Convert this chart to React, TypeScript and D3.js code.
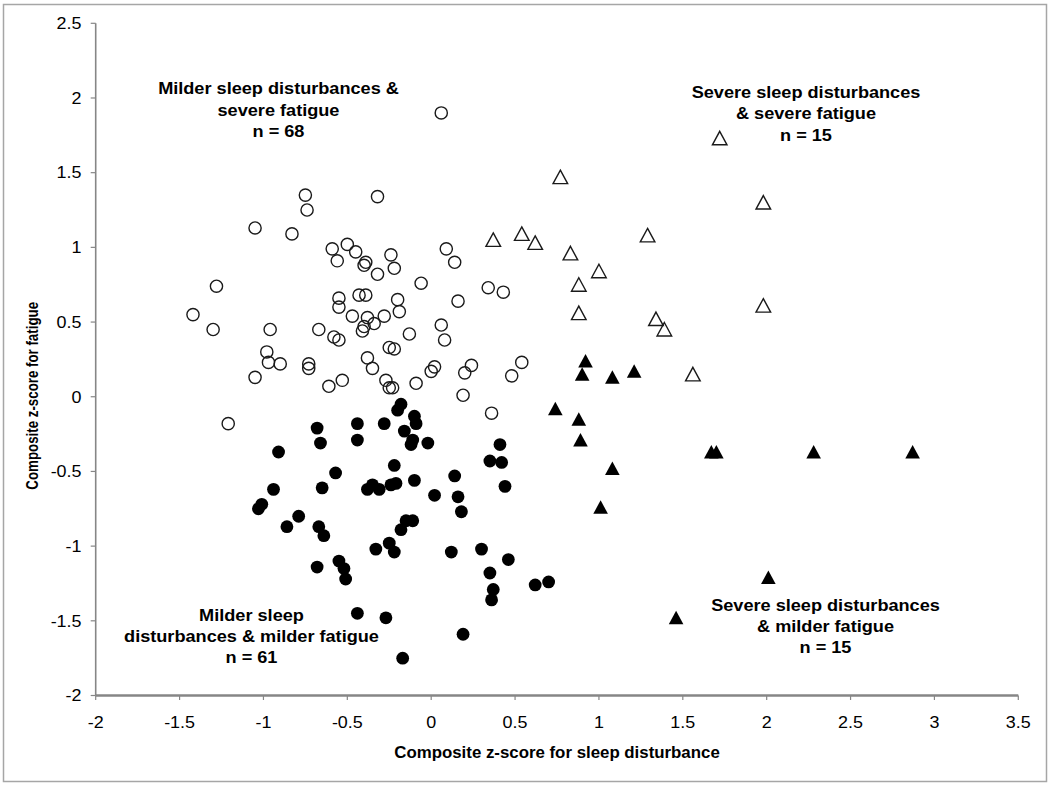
import React from "react";
import * as d3 from "d3";

const xTicks = [-2, -1.5, -1, -0.5, 0, 0.5, 1, 1.5, 2, 2.5, 3, 3.5];
const yTicks = [-2, -1.5, -1, -0.5, 0, 0.5, 1, 1.5, 2, 2.5];

// Milder sleep disturbances & severe fatigue (open circles)
const mildSevere: [number, number][] = [
  [-0.75, 1.35], [-0.74, 1.25], [-0.32, 1.34], [-1.05, 1.13], [-0.83, 1.09], [-0.59, 0.99],
  [-0.5, 1.02], [-0.45, 0.97], [-0.56, 0.91], [-0.39, 0.9], [-0.4, 0.88], [-0.32, 0.82],
  [-0.24, 0.95], [-0.22, 0.86], [0.09, 0.99], [-0.06, 0.76], [-1.28, 0.74], [-1.42, 0.55],
  [-1.3, 0.45], [-0.96, 0.45], [-0.55, 0.66], [-0.55, 0.6], [-0.43, 0.68], [-0.39, 0.68],
  [-0.2, 0.65], [-0.19, 0.57], [-0.47, 0.54], [-0.38, 0.53], [-0.28, 0.54], [-0.34, 0.49],
  [-0.4, 0.47], [-0.41, 0.44], [-0.13, 0.42], [0.06, 0.48], [0.08, 0.38], [-0.67, 0.45],
  [-0.58, 0.4], [-0.55, 0.38], [-0.25, 0.33], [-0.22, 0.32], [-0.98, 0.3], [-0.97, 0.23],
  [-0.9, 0.22], [-0.73, 0.22], [-0.73, 0.19], [-1.05, 0.13], [-0.61, 0.07], [-0.53, 0.11],
  [-0.38, 0.26], [-0.35, 0.19], [-0.27, 0.11], [-0.25, 0.06], [-0.23, 0.06], [-0.09, 0.09],
  [0.0, 0.17], [0.02, 0.2], [-1.21, -0.18], [0.06, 1.9], [0.14, 0.9], [0.16, 0.64],
  [0.34, 0.73], [0.43, 0.7], [0.2, 0.16], [0.24, 0.21], [0.48, 0.14], [0.54, 0.23],
  [0.19, 0.01], [0.36, -0.11],
];

// Milder sleep disturbances & milder fatigue (filled circles)
const mildMild: [number, number][] = [
  [-0.18, -0.05], [-0.2, -0.09], [-0.68, -0.21], [-0.44, -0.18], [-0.28, -0.18], [-0.1, -0.13],
  [-0.09, -0.18], [-0.16, -0.23], [-0.66, -0.31], [-0.44, -0.29], [-0.11, -0.29], [-0.12, -0.32],
  [-0.02, -0.31], [-0.91, -0.37], [-0.22, -0.46], [-0.57, -0.51], [-0.94, -0.62], [-0.65, -0.61],
  [-0.38, -0.62], [-0.35, -0.59], [-0.31, -0.62], [-0.24, -0.59], [-0.21, -0.58], [-0.1, -0.56],
  [0.02, -0.66], [-1.01, -0.72], [-1.03, -0.75], [-0.79, -0.8], [-0.86, -0.87], [-0.67, -0.87],
  [-0.64, -0.93], [-0.18, -0.89], [-0.15, -0.83], [-0.11, -0.83], [-0.33, -1.02], [-0.25, -0.98],
  [-0.22, -1.04], [-0.68, -1.14], [-0.55, -1.1], [-0.52, -1.15], [-0.51, -1.22], [-0.44, -1.45],
  [-0.27, -1.48], [-0.17, -1.75], [0.14, -0.53], [0.16, -0.67], [0.18, -0.77], [0.12, -1.04],
  [0.41, -0.32], [0.35, -0.43], [0.42, -0.44], [0.44, -0.6], [0.3, -1.02], [0.46, -1.09],
  [0.35, -1.18], [0.37, -1.29], [0.36, -1.36], [0.62, -1.26], [0.7, -1.24], [0.19, -1.59],
];

// Severe sleep disturbances & severe fatigue (open triangles)
const severeSevere: [number, number][] = [
  [1.72, 1.73], [0.77, 1.47], [1.98, 1.3], [0.37, 1.05], [0.54, 1.09], [0.62, 1.03],
  [1.29, 1.08], [0.83, 0.96], [1.0, 0.84], [0.88, 0.75], [0.88, 0.56], [1.98, 0.61],
  [1.34, 0.52], [1.39, 0.45], [1.56, 0.15],
];

// Severe sleep disturbances & milder fatigue (filled triangles)
const severeMild: [number, number][] = [
  [0.92, 0.24], [0.9, 0.15], [1.08, 0.13], [1.21, 0.17], [0.74, -0.08], [0.88, -0.15],
  [0.89, -0.29], [1.67, -0.37], [1.7, -0.37], [2.28, -0.37], [2.87, -0.37], [1.08, -0.48],
  [1.01, -0.74], [2.01, -1.21], [1.46, -1.48],
];

const FONT = '"Liberation Sans", Arial, sans-serif';

const tri = "M0,-7 L7.3,6.5 L-7.3,6.5 Z";

function Stretched({ x, y, children, size, bold, anchor = "middle", sx = 1.08 }: any) {
  return (
    <text
      transform={`translate(${x},${y}) scale(${sx},1)`}
      textAnchor={anchor}
      fontFamily={FONT}
      fontSize={size}
      fontWeight={bold ? "bold" : "normal"}
      fill="#000"
    >
      {children}
    </text>
  );
}

export default function App() {
  const x = d3.scaleLinear().domain([-2, 3.5]).range([95.7, 1018.3]);
  const y = d3.scaleLinear().domain([-2, 2.5]).range([695.5, 23.3]);
  const axisColor = "#868686";

  return (
    <svg
      width={1050}
      height={785}
      style={{ position: "absolute", left: 0, top: 0, background: "#fff" }}
    >
      <rect x={0} y={0} width={1050} height={785} fill="#fff" />
      <rect x={3.5} y={4.5} width={1043} height={777} fill="none" stroke="#a6a6a6" strokeWidth={1.5} />

      {/* y axis */}
      <line x1={x(-2)} x2={x(-2)} y1={y(2.5)} y2={y(-2)} stroke={axisColor} strokeWidth={1.6} />
      {yTicks.map((t) => (
        <g key={"yt" + t}>
          <line x1={x(-2) - 5} x2={x(-2)} y1={y(t)} y2={y(t)} stroke={axisColor} strokeWidth={1.2} />
          <Stretched x={81.5} y={y(t) + 5.8} size={16} sx={1.12} anchor="end">
            {String(t)}
          </Stretched>
        </g>
      ))}

      {/* x axis */}
      {xTicks.map((t) => (
        <g key={"xt" + t}>
          <line x1={x(t)} x2={x(t)} y1={y(-2)} y2={y(-2) + 4.5} stroke={axisColor} strokeWidth={1.2} />
          <Stretched x={x(t)} y={727.5} size={16} sx={1.12}>
            {String(t)}
          </Stretched>
        </g>
      ))}
      <line x1={x(-2)} x2={x(3.5)} y1={y(-2)} y2={y(-2)} stroke={axisColor} strokeWidth={2.6} />

      {/* axis titles */}
      <Stretched x={557} y={758.3} size={15.6} bold>
        Composite z-score for sleep disturbance
      </Stretched>
      <text
        transform={`translate(37.5,${(303.3 + 488.3) / 2}) rotate(-90) scale(1,1.2)`}
        textAnchor="middle"
        fontFamily={FONT}
        fontSize={13.3}
        fontWeight="bold"
        fill="#000"
      >
        Composite z-score for fatigue
      </text>

      {/* markers */}
      {mildSevere.map(([a, b], i) => (
        <circle key={"ms" + i} cx={x(a)} cy={y(b)} r={6.1} fill="none" stroke="#1a1a1a" strokeWidth={1.4} />
      ))}
      {severeSevere.map(([a, b], i) => (
        <path key={"ss" + i} d={tri} transform={`translate(${x(a)},${y(b)})`} fill="none" stroke="#1a1a1a" strokeWidth={1.4} />
      ))}
      {mildMild.map(([a, b], i) => (
        <circle key={"mm" + i} cx={x(a)} cy={y(b)} r={6.4} fill="#000" />
      ))}
      {severeMild.map(([a, b], i) => (
        <path key={"sm" + i} d={tri} transform={`translate(${x(a)},${y(b)})`} fill="#000" />
      ))}

      {/* annotations */}
      <Stretched x={278.5} y={94} size={16.8} bold>Milder sleep disturbances &amp;</Stretched>
      <Stretched x={278.5} y={115.5} size={16.8} bold>severe fatigue</Stretched>
      <Stretched x={278.5} y={137} size={16.8} bold>n = 68</Stretched>

      <Stretched x={806} y={97.5} size={16.8} bold>Severe sleep disturbances</Stretched>
      <Stretched x={806} y={119} size={16.8} bold>&amp; severe fatigue</Stretched>
      <Stretched x={806} y={140.5} size={16.8} bold>n = 15</Stretched>

      <Stretched x={251.5} y={620.5} size={16.8} bold>Milder sleep</Stretched>
      <Stretched x={251.5} y={641.8} size={16.8} bold>disturbances &amp; milder fatigue</Stretched>
      <Stretched x={251.5} y={663.2} size={16.8} bold>n = 61</Stretched>

      <Stretched x={825.5} y={610.7} size={16.8} bold>Severe sleep disturbances</Stretched>
      <Stretched x={825.5} y={632} size={16.8} bold>&amp; milder fatigue</Stretched>
      <Stretched x={825.5} y={653.3} size={16.8} bold>n = 15</Stretched>
    </svg>
  );
}
